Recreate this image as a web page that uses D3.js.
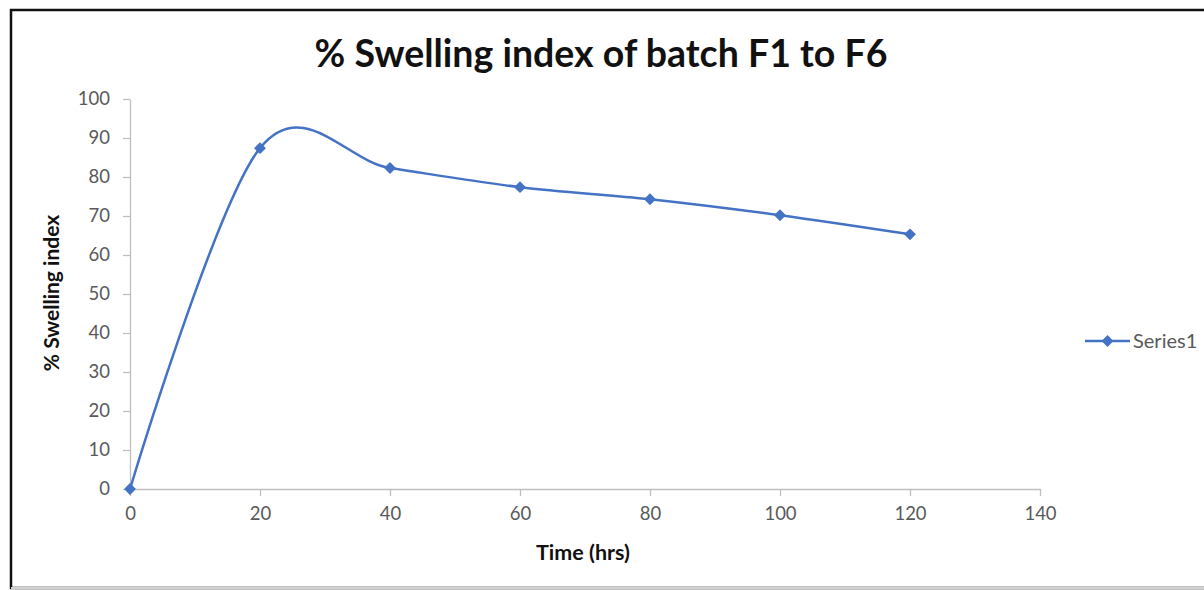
<!DOCTYPE html>
<html>
<head>
<meta charset="utf-8">
<title>% Swelling index</title>
<script src="https://cdn.jsdelivr.net/npm/d3@7"></script>
<style>
  body { margin: 0; background: #fff; }
  svg { display: block; font-family: Lato, "Open Sans", sans-serif; }
</style>
</head>
<body>
<script>
  // data
  let times = [0, 20, 40, 60, 80, 100, 120];
  let swelling = [0, 87.4, 82.3, 77.4, 74.3, 70.2, 65.3];
  let xTicks = [0, 20, 40, 60, 80, 100, 120, 140];
  let yTicks = [0, 10, 20, 30, 40, 50, 60, 70, 80, 90, 100];
  let seriesName = 'Series1';

  let width = 1204, height = 590;
  let blue = '#4472c4';
  let grey = '#595959';

  let svg = d3.select('body').append('svg')
    .attr('width', width)
    .attr('height', height);

  // chart frame
  svg.append('rect')
    .attr('x', 11).attr('y', 10)
    .attr('width', 1210).attr('height', 578)
    .attr('fill', '#fff')
    .attr('stroke', '#111')
    .attr('stroke-width', 2.5);
  svg.append('line')
    .attr('x1', 11).attr('x2', width)
    .attr('y1', 588).attr('y2', 588)
    .attr('stroke', '#d0d0d0').attr('stroke-width', 2);

  let x = d3.scaleLinear().domain([0, 140]).range([130, 1040]);
  let y = d3.scaleLinear().domain([0, 100]).range([489, 99]);

  let xAxis = svg.append('g')
    .attr('transform', `translate(0,${y(0)})`)
    .call(d3.axisBottom(x).tickValues(xTicks).tickSize(7).tickSizeOuter(0).tickPadding(11));
  let yAxis = svg.append('g')
    .attr('transform', `translate(${x(0)},0)`)
    .call(d3.axisLeft(y).tickValues(yTicks).tickSize(7).tickSizeOuter(0).tickPadding(13));

  [xAxis, yAxis].forEach(a => {
    a.select('.domain').attr('stroke', '#bfbfbf').attr('stroke-width', 1.3);
    a.selectAll('.tick line').attr('stroke', '#bfbfbf').attr('stroke-width', 1.3);
    a.selectAll('.tick text')
      .attr('fill', grey)
      .style('font-size', '18.5px')
      .style('font-family', 'Lato, sans-serif');
  });

  let line = d3.line()
    .x((d, i) => x(times[i]))
    .y(d => y(d))
    .curve(d3.curveCardinal.tension(0));

  svg.append('path')
    .datum(swelling)
    .attr('d', line)
    .attr('fill', 'none')
    .attr('stroke', blue)
    .attr('stroke-width', 2.5);

  let diamond = d3.symbol().type(d3.symbolDiamond2).size(90);

  svg.selectAll('.pt')
    .data(swelling)
    .enter()
    .append('path')
      .attr('class', 'pt')
      .attr('d', diamond)
      .attr('transform', (d, i) => `translate(${x(times[i])},${y(d)})`)
      .attr('fill', blue);

  // title and axis labels
  svg.append('text')
    .text('% Swelling index of batch F1 to F6')
    .attr('x', 601).attr('y', 67)
    .attr('text-anchor', 'middle')
    .attr('fill', '#111')
    .style('font-size', '37.5px')
    .style('font-weight', 'bold');

  svg.append('text')
    .text('Time (hrs)')
    .attr('x', 583).attr('y', 560)
    .attr('text-anchor', 'middle')
    .attr('fill', '#111')
    .style('font-size', '21.5px')
    .style('font-weight', 'bold');

  svg.append('text')
    .text('% Swelling index')
    .attr('transform', 'translate(59,293) rotate(-90)')
    .attr('text-anchor', 'middle')
    .attr('fill', '#111')
    .style('font-size', '21px')
    .style('font-weight', 'bold');

  // legend
  let lg = svg.append('g').attr('transform', 'translate(1085,341)');
  lg.append('line')
    .attr('x1', 0).attr('x2', 45)
    .attr('stroke', blue).attr('stroke-width', 2.5);
  lg.append('path')
    .attr('d', diamond)
    .attr('transform', 'translate(22.5,0)')
    .attr('fill', blue);
  lg.append('text')
    .text(seriesName)
    .attr('x', 48).attr('y', 7)
    .attr('fill', grey)
    .style('font-size', '20px');
</script>
</body>
</html>
